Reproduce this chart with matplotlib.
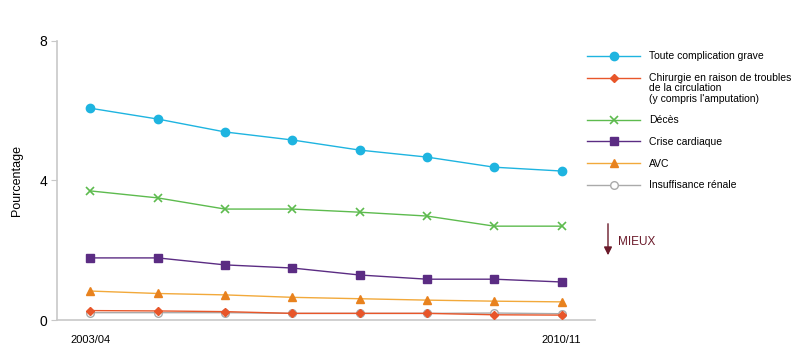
import matplotlib
matplotlib.use("Agg")
import matplotlib.pyplot as plt

periods = ["2003/04", "2004/05", "2005/06", "2006/07", "2007/08", "2008/09", "2009/10", "2010/11"]

toute = [6.07, 5.76, 5.39, 5.16, 4.87, 4.67, 4.38, 4.27]
chirurgie = [0.27, 0.26, 0.24, 0.19, 0.19, 0.19, 0.15, 0.14]
deces = [3.70, 3.50, 3.18, 3.18, 3.09, 2.98, 2.69, 2.69]
crise = [1.78, 1.78, 1.58, 1.49, 1.29, 1.17, 1.17, 1.09]
avc = [0.83, 0.76, 0.72, 0.65, 0.61, 0.57, 0.54, 0.52]
insuffisance = [0.21, 0.21, 0.21, 0.19, 0.19, 0.19, 0.20, 0.18]

labels = ["Toute complication grave",
          "Chirurgie en raison de troubles\nde la circulation\n(y compris l'amputation)",
          "Décès", "Crise cardiaque", "AVC", "Insuffisance rénale"]

plt.rcParams["font.family"] = ["Liberation Sans", "DejaVu Sans"]

fig = plt.figure(figsize=(8, 3.62), dpi=100)
ax = fig.add_axes([0.071, 0.116, 0.673, 0.771])

x = list(range(len(periods)))
GREY = "#C8C8C8"

ax.plot(x, insuffisance, color="#AAAAAA", lw=1.0, marker="o", ms=5.5,
        mfc="white", mec="#AAAAAA", mew=1, label=labels[5], zorder=2)
ax.plot(x, toute, color="#1EB4E0", lw=1.0, marker="o", ms=6, label=labels[0], zorder=3)
ax.plot(x, chirurgie, color="#E8562A", lw=1.0, marker="D", ms=4.5, label=labels[1], zorder=3)
ax.plot(x, deces, color="#5DBB4E", lw=1.0, marker="x", ms=6, mew=1.2, label=labels[2], zorder=3)
ax.plot(x, crise, color="#5B2C83", lw=1.0, marker="s", ms=6, label=labels[3], zorder=3)
ax.plot(x, avc, color="#F2A93B", lw=1.0, marker="^", ms=6, mfc="#E8821E", mec="#E8821E",
        label=labels[4], zorder=3)

ax.set_xlim(-0.5, 7.5)
ax.set_ylim(0, 8)
ax.set_yticks([0, 4, 8])
ax.set_yticklabels(["0", "4", "8"], fontsize=10)
ax.set_xticks([0, 7])
ax.set_xticklabels([periods[0], periods[-1]], fontsize=8)
ax.tick_params(axis="y", length=4, color=GREY, pad=3)
ax.tick_params(axis="x", length=0, pad=11)
for s in ["top", "right"]:
    ax.spines[s].set_visible(False)
for s in ["left", "bottom"]:
    ax.spines[s].set_color(GREY)
    ax.spines[s].set_linewidth(1.2)
ax.set_ylabel("Pourcentage", fontsize=9, labelpad=12)

order = [1, 2, 3, 4, 5, 0]
h, l = ax.get_legend_handles_labels()
leg = ax.legend([h[i] for i in order], [l[i] for i in order],
                loc="upper left", bbox_to_anchor=(0.729, 0.87), bbox_transform=fig.transFigure,
                frameon=False, fontsize=7.5, handlelength=5.1, handletextpad=0.8,
                labelspacing=1.12, borderaxespad=0)
leg.get_texts()[1].set_linespacing(1.05)

# align the multi-line entry's handle with its first text line
fig.canvas.draw()
chir_handle = leg.legend_handles[1]
txt = leg.get_texts()[1]
bb = txt.get_window_extent()
line_h = bb.height / 3.0
shift_pts = line_h * 72.0 / fig.dpi
yd = chir_handle.get_ydata()
chir_handle.set_ydata([v + shift_pts for v in yd])

ax.annotate("", xy=(608, 104), xytext=(608, 141), xycoords="figure pixels",
            arrowprops=dict(arrowstyle="-|>", color="#6B1A2A", lw=1, mutation_scale=12))
fig.text(618, 120, "MIEUX", fontsize=8.5, color="#6B1A2A", ha="left", va="center",
         transform=None)

fig.savefig("out.png", dpi=100)
